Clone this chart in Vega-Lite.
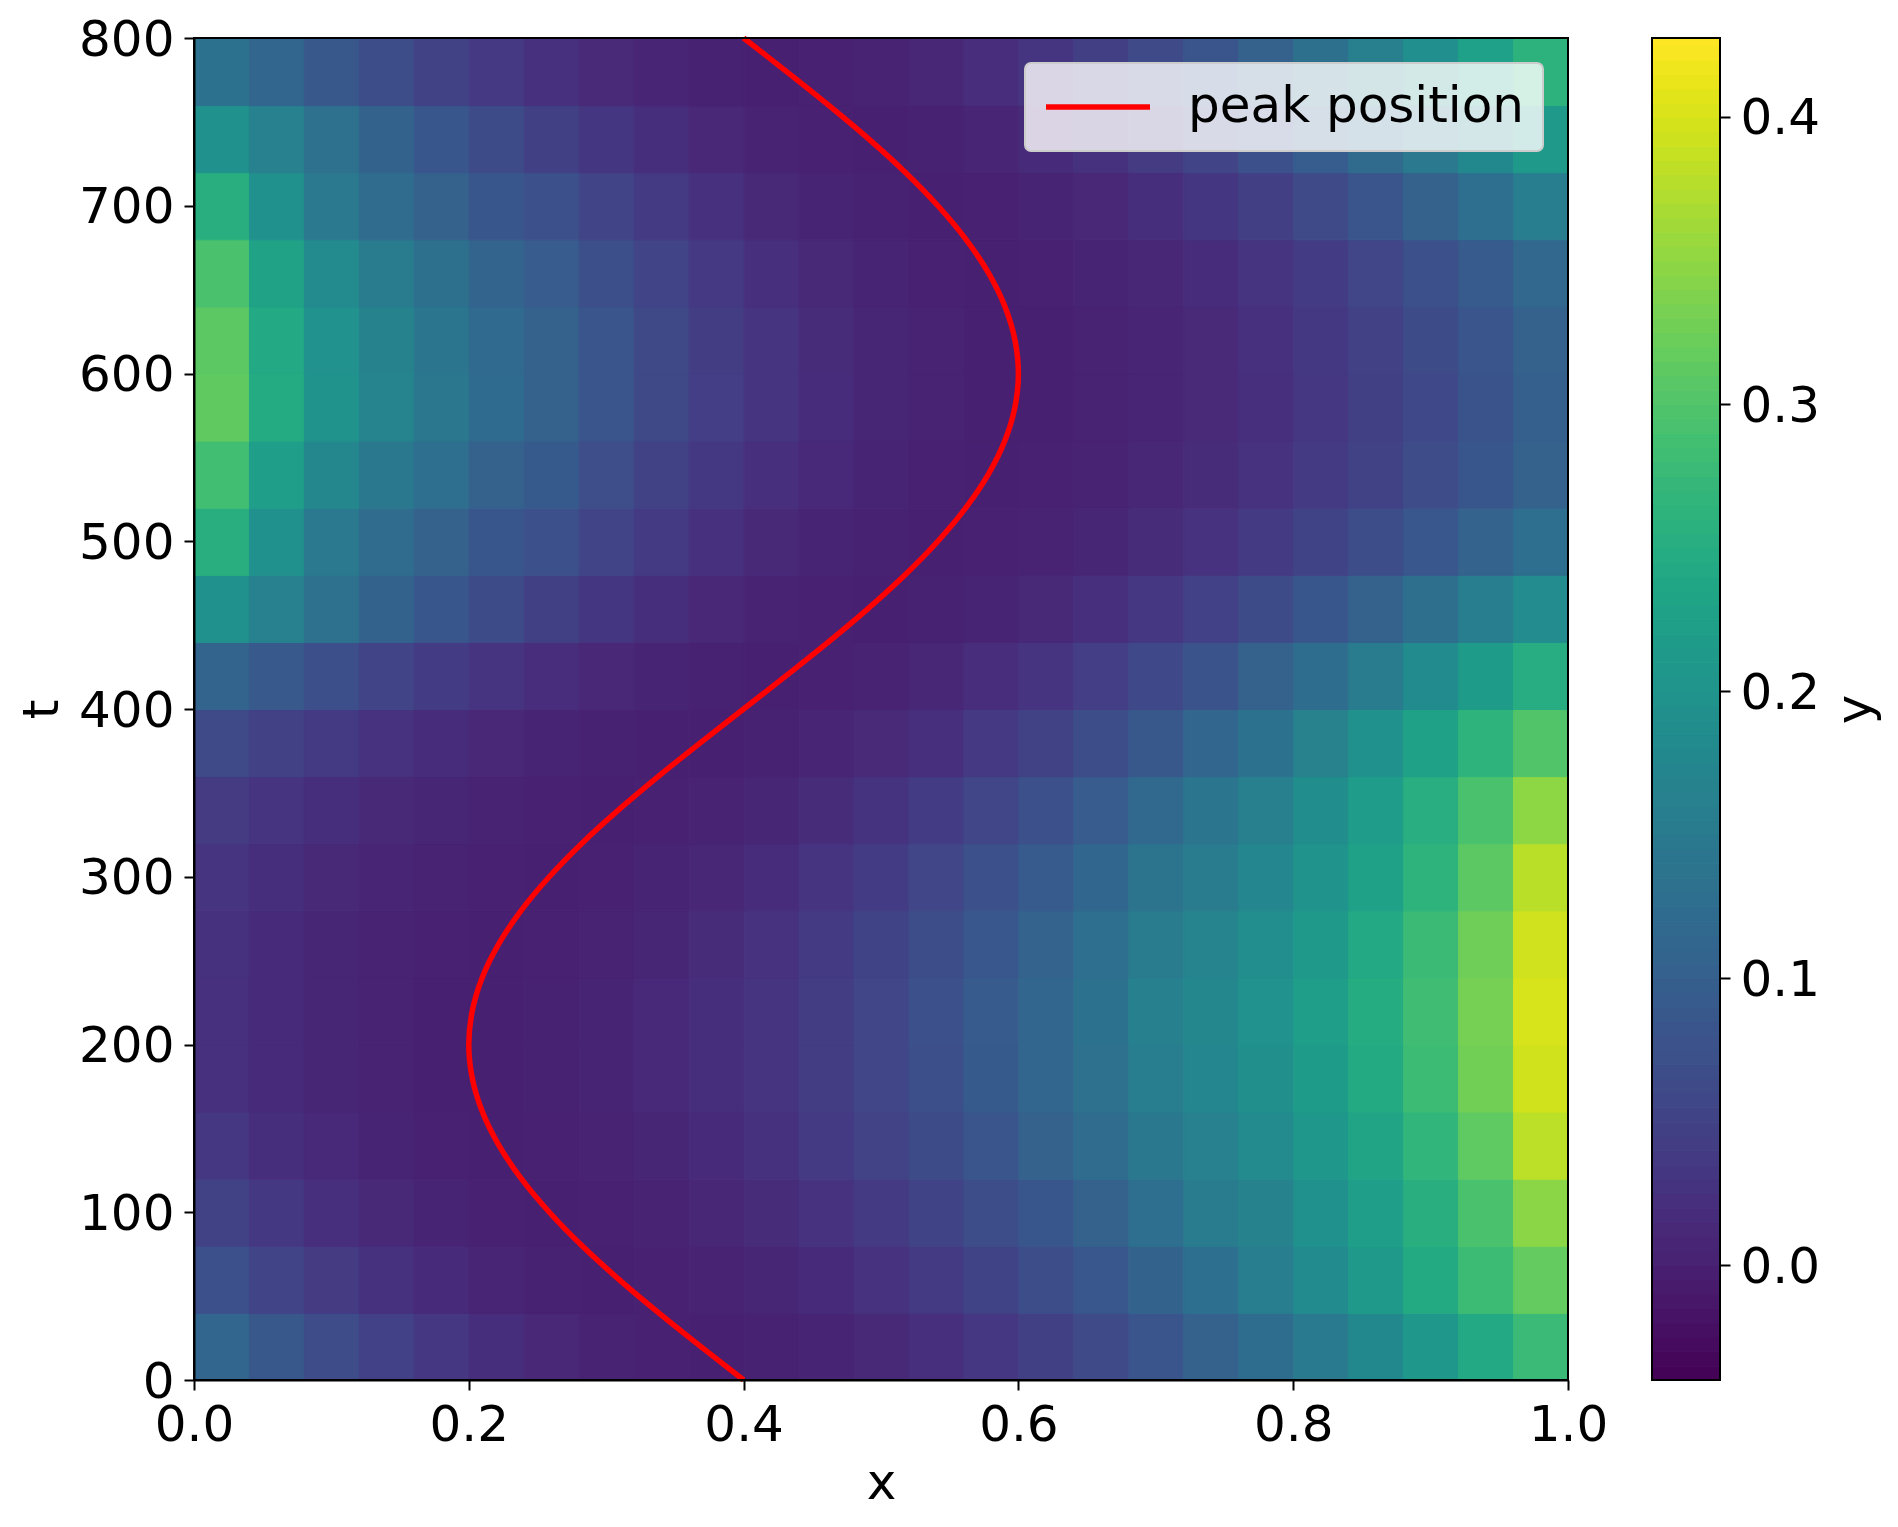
{"$schema":"https://vega.github.io/schema/vega-lite/v6.json","background":"white","padding":{"left":17,"top":15,"right":10,"bottom":10},"autosize":{"type":"pad"},"spacing":84,"bounds":"flush","config":{"view":{"stroke":null},"font":"DejaVu Sans","axis":{"labelFont":"DejaVu Sans","titleFont":"DejaVu Sans","labelFontSize":50,"titleFontSize":50,"labelColor":"black","titleColor":"black","tickColor":"black","domainColor":"black","tickSize":10,"tickWidth":2,"domainWidth":2,"grid":false,"labelPadding":10,"titleFontWeight":"normal"}},"datasets":{"cells":[
{"x":0.02,"t":20,"y":0.112},{"x":0.06,"t":20,"y":0.088},{"x":0.1,"t":20,"y":0.066},{"x":0.14,"t":20,"y":0.048},{"x":0.18,"t":20,"y":0.033},{"x":0.22,"t":20,"y":0.02},{"x":0.26,"t":20,"y":0.011},{"x":0.3,"t":20,"y":0.004},{"x":0.34,"t":20,"y":0.001},{"x":0.38,"t":20,"y":0},{"x":0.42,"t":20,"y":0.002},{"x":0.46,"t":20,"y":0.006},{"x":0.5,"t":20,"y":0.013},{"x":0.54,"t":20,"y":0.022},{"x":0.58,"t":20,"y":0.033},{"x":0.62,"t":20,"y":0.047},{"x":0.66,"t":20,"y":0.063},{"x":0.7,"t":20,"y":0.081},{"x":0.74,"t":20,"y":0.102},{"x":0.78,"t":20,"y":0.125},{"x":0.82,"t":20,"y":0.151},{"x":0.86,"t":20,"y":0.179},{"x":0.9,"t":20,"y":0.209},{"x":0.94,"t":20,"y":0.242},{"x":0.98,"t":20,"y":0.277},
{"x":0.02,"t":60,"y":0.074},{"x":0.06,"t":60,"y":0.055},{"x":0.1,"t":60,"y":0.039},{"x":0.14,"t":60,"y":0.025},{"x":0.18,"t":60,"y":0.015},{"x":0.22,"t":60,"y":0.007},{"x":0.26,"t":60,"y":0.002},{"x":0.3,"t":60,"y":0},{"x":0.34,"t":60,"y":0.001},{"x":0.38,"t":60,"y":0.004},{"x":0.42,"t":60,"y":0.009},{"x":0.46,"t":60,"y":0.016},{"x":0.5,"t":60,"y":0.026},{"x":0.54,"t":60,"y":0.037},{"x":0.58,"t":60,"y":0.052},{"x":0.62,"t":60,"y":0.068},{"x":0.66,"t":60,"y":0.086},{"x":0.7,"t":60,"y":0.107},{"x":0.74,"t":60,"y":0.13},{"x":0.78,"t":60,"y":0.156},{"x":0.82,"t":60,"y":0.183},{"x":0.86,"t":60,"y":0.213},{"x":0.9,"t":60,"y":0.245},{"x":0.94,"t":60,"y":0.28},{"x":0.98,"t":60,"y":0.316},
{"x":0.02,"t":100,"y":0.051},{"x":0.06,"t":100,"y":0.035},{"x":0.1,"t":100,"y":0.023},{"x":0.14,"t":100,"y":0.013},{"x":0.18,"t":100,"y":0.006},{"x":0.22,"t":100,"y":0.001},{"x":0.26,"t":100,"y":0},{"x":0.3,"t":100,"y":0.001},{"x":0.34,"t":100,"y":0.004},{"x":0.38,"t":100,"y":0.01},{"x":0.42,"t":100,"y":0.017},{"x":0.46,"t":100,"y":0.027},{"x":0.5,"t":100,"y":0.038},{"x":0.54,"t":100,"y":0.052},{"x":0.58,"t":100,"y":0.068},{"x":0.62,"t":100,"y":0.085},{"x":0.66,"t":100,"y":0.105},{"x":0.7,"t":100,"y":0.128},{"x":0.74,"t":100,"y":0.152},{"x":0.78,"t":100,"y":0.168},{"x":0.82,"t":100,"y":0.193},{"x":0.86,"t":100,"y":0.222},{"x":0.9,"t":100,"y":0.255},{"x":0.94,"t":100,"y":0.294},{"x":0.98,"t":100,"y":0.346},
{"x":0.02,"t":140,"y":0.033},{"x":0.06,"t":140,"y":0.021},{"x":0.1,"t":140,"y":0.012},{"x":0.14,"t":140,"y":0.005},{"x":0.18,"t":140,"y":0.001},{"x":0.22,"t":140,"y":0},{"x":0.26,"t":140,"y":0.001},{"x":0.3,"t":140,"y":0.004},{"x":0.34,"t":140,"y":0.009},{"x":0.38,"t":140,"y":0.016},{"x":0.42,"t":140,"y":0.025},{"x":0.46,"t":140,"y":0.037},{"x":0.5,"t":140,"y":0.05},{"x":0.54,"t":140,"y":0.065},{"x":0.58,"t":140,"y":0.083},{"x":0.62,"t":140,"y":0.102},{"x":0.66,"t":140,"y":0.124},{"x":0.7,"t":140,"y":0.147},{"x":0.74,"t":140,"y":0.163},{"x":0.78,"t":140,"y":0.181},{"x":0.82,"t":140,"y":0.206},{"x":0.86,"t":140,"y":0.233},{"x":0.9,"t":140,"y":0.267},{"x":0.94,"t":140,"y":0.312},{"x":0.98,"t":140,"y":0.381},
{"x":0.02,"t":180,"y":0.024},{"x":0.06,"t":180,"y":0.015},{"x":0.1,"t":180,"y":0.008},{"x":0.14,"t":180,"y":0.003},{"x":0.18,"t":180,"y":0},{"x":0.22,"t":180,"y":0},{"x":0.26,"t":180,"y":0.002},{"x":0.3,"t":180,"y":0.006},{"x":0.34,"t":180,"y":0.012},{"x":0.38,"t":180,"y":0.02},{"x":0.42,"t":180,"y":0.03},{"x":0.46,"t":180,"y":0.042},{"x":0.5,"t":180,"y":0.056},{"x":0.54,"t":180,"y":0.072},{"x":0.58,"t":180,"y":0.091},{"x":0.62,"t":180,"y":0.111},{"x":0.66,"t":180,"y":0.133},{"x":0.7,"t":180,"y":0.158},{"x":0.74,"t":180,"y":0.174},{"x":0.78,"t":180,"y":0.192},{"x":0.82,"t":180,"y":0.218},{"x":0.86,"t":180,"y":0.245},{"x":0.9,"t":180,"y":0.28},{"x":0.94,"t":180,"y":0.327},{"x":0.98,"t":180,"y":0.395},
{"x":0.02,"t":220,"y":0.024},{"x":0.06,"t":220,"y":0.015},{"x":0.1,"t":220,"y":0.008},{"x":0.14,"t":220,"y":0.003},{"x":0.18,"t":220,"y":0},{"x":0.22,"t":220,"y":0},{"x":0.26,"t":220,"y":0.002},{"x":0.3,"t":220,"y":0.006},{"x":0.34,"t":220,"y":0.012},{"x":0.38,"t":220,"y":0.02},{"x":0.42,"t":220,"y":0.03},{"x":0.46,"t":220,"y":0.043},{"x":0.5,"t":220,"y":0.057},{"x":0.54,"t":220,"y":0.073},{"x":0.58,"t":220,"y":0.092},{"x":0.62,"t":220,"y":0.112},{"x":0.66,"t":220,"y":0.135},{"x":0.7,"t":220,"y":0.16},{"x":0.74,"t":220,"y":0.176},{"x":0.78,"t":220,"y":0.195},{"x":0.82,"t":220,"y":0.221},{"x":0.86,"t":220,"y":0.249},{"x":0.9,"t":220,"y":0.284},{"x":0.94,"t":220,"y":0.331},{"x":0.98,"t":220,"y":0.4},
{"x":0.02,"t":260,"y":0.025},{"x":0.06,"t":260,"y":0.016},{"x":0.1,"t":260,"y":0.009},{"x":0.14,"t":260,"y":0.004},{"x":0.18,"t":260,"y":0.001},{"x":0.22,"t":260,"y":0},{"x":0.26,"t":260,"y":0.001},{"x":0.3,"t":260,"y":0.004},{"x":0.34,"t":260,"y":0.009},{"x":0.38,"t":260,"y":0.017},{"x":0.42,"t":260,"y":0.026},{"x":0.46,"t":260,"y":0.038},{"x":0.5,"t":260,"y":0.052},{"x":0.54,"t":260,"y":0.068},{"x":0.58,"t":260,"y":0.086},{"x":0.62,"t":260,"y":0.106},{"x":0.66,"t":260,"y":0.128},{"x":0.7,"t":260,"y":0.153},{"x":0.74,"t":260,"y":0.169},{"x":0.78,"t":260,"y":0.188},{"x":0.82,"t":260,"y":0.214},{"x":0.86,"t":260,"y":0.242},{"x":0.9,"t":260,"y":0.278},{"x":0.94,"t":260,"y":0.325},{"x":0.98,"t":260,"y":0.394},
{"x":0.02,"t":300,"y":0.03},{"x":0.06,"t":300,"y":0.021},{"x":0.1,"t":300,"y":0.013},{"x":0.14,"t":300,"y":0.007},{"x":0.18,"t":300,"y":0.003},{"x":0.22,"t":300,"y":0.001},{"x":0.26,"t":300,"y":0},{"x":0.3,"t":300,"y":0.001},{"x":0.34,"t":300,"y":0.005},{"x":0.38,"t":300,"y":0.01},{"x":0.42,"t":300,"y":0.018},{"x":0.46,"t":300,"y":0.029},{"x":0.5,"t":300,"y":0.041},{"x":0.54,"t":300,"y":0.056},{"x":0.58,"t":300,"y":0.073},{"x":0.62,"t":300,"y":0.093},{"x":0.66,"t":300,"y":0.114},{"x":0.7,"t":300,"y":0.138},{"x":0.74,"t":300,"y":0.154},{"x":0.78,"t":300,"y":0.173},{"x":0.82,"t":300,"y":0.198},{"x":0.86,"t":300,"y":0.226},{"x":0.9,"t":300,"y":0.262},{"x":0.94,"t":300,"y":0.309},{"x":0.98,"t":300,"y":0.379},
{"x":0.02,"t":340,"y":0.039},{"x":0.06,"t":340,"y":0.029},{"x":0.1,"t":340,"y":0.021},{"x":0.14,"t":340,"y":0.013},{"x":0.18,"t":340,"y":0.008},{"x":0.22,"t":340,"y":0.004},{"x":0.26,"t":340,"y":0.001},{"x":0.3,"t":340,"y":0},{"x":0.34,"t":340,"y":0.001},{"x":0.38,"t":340,"y":0.004},{"x":0.42,"t":340,"y":0.009},{"x":0.46,"t":340,"y":0.017},{"x":0.5,"t":340,"y":0.028},{"x":0.54,"t":340,"y":0.041},{"x":0.58,"t":340,"y":0.056},{"x":0.62,"t":340,"y":0.074},{"x":0.66,"t":340,"y":0.094},{"x":0.7,"t":340,"y":0.117},{"x":0.74,"t":340,"y":0.142},{"x":0.78,"t":340,"y":0.159},{"x":0.82,"t":340,"y":0.186},{"x":0.86,"t":340,"y":0.217},{"x":0.9,"t":340,"y":0.252},{"x":0.94,"t":340,"y":0.294},{"x":0.98,"t":340,"y":0.349},
{"x":0.02,"t":380,"y":0.063},{"x":0.06,"t":380,"y":0.049},{"x":0.1,"t":380,"y":0.037},{"x":0.14,"t":380,"y":0.027},{"x":0.18,"t":380,"y":0.018},{"x":0.22,"t":380,"y":0.011},{"x":0.26,"t":380,"y":0.006},{"x":0.3,"t":380,"y":0.002},{"x":0.34,"t":380,"y":0},{"x":0.38,"t":380,"y":0},{"x":0.42,"t":380,"y":0.002},{"x":0.46,"t":380,"y":0.007},{"x":0.5,"t":380,"y":0.014},{"x":0.54,"t":380,"y":0.023},{"x":0.58,"t":380,"y":0.036},{"x":0.62,"t":380,"y":0.051},{"x":0.66,"t":380,"y":0.068},{"x":0.7,"t":380,"y":0.088},{"x":0.74,"t":380,"y":0.111},{"x":0.78,"t":380,"y":0.136},{"x":0.82,"t":380,"y":0.164},{"x":0.86,"t":380,"y":0.194},{"x":0.9,"t":380,"y":0.227},{"x":0.94,"t":380,"y":0.262},{"x":0.98,"t":380,"y":0.3},
{"x":0.02,"t":420,"y":0.109},{"x":0.06,"t":420,"y":0.089},{"x":0.1,"t":420,"y":0.071},{"x":0.14,"t":420,"y":0.055},{"x":0.18,"t":420,"y":0.041},{"x":0.22,"t":420,"y":0.029},{"x":0.26,"t":420,"y":0.019},{"x":0.3,"t":420,"y":0.011},{"x":0.34,"t":420,"y":0.005},{"x":0.38,"t":420,"y":0.002},{"x":0.42,"t":420,"y":0},{"x":0.46,"t":420,"y":0.001},{"x":0.5,"t":420,"y":0.004},{"x":0.54,"t":420,"y":0.01},{"x":0.58,"t":420,"y":0.019},{"x":0.62,"t":420,"y":0.03},{"x":0.66,"t":420,"y":0.044},{"x":0.7,"t":420,"y":0.06},{"x":0.74,"t":420,"y":0.08},{"x":0.78,"t":420,"y":0.102},{"x":0.82,"t":420,"y":0.126},{"x":0.86,"t":420,"y":0.153},{"x":0.9,"t":420,"y":0.183},{"x":0.94,"t":420,"y":0.216},{"x":0.98,"t":420,"y":0.251},
{"x":0.02,"t":460,"y":0.193},{"x":0.06,"t":460,"y":0.162},{"x":0.1,"t":460,"y":0.133},{"x":0.14,"t":460,"y":0.107},{"x":0.18,"t":460,"y":0.084},{"x":0.22,"t":460,"y":0.064},{"x":0.26,"t":460,"y":0.047},{"x":0.3,"t":460,"y":0.032},{"x":0.34,"t":460,"y":0.02},{"x":0.38,"t":460,"y":0.011},{"x":0.42,"t":460,"y":0.004},{"x":0.46,"t":460,"y":0.001},{"x":0.5,"t":460,"y":0},{"x":0.54,"t":460,"y":0.002},{"x":0.58,"t":460,"y":0.006},{"x":0.62,"t":460,"y":0.013},{"x":0.66,"t":460,"y":0.022},{"x":0.7,"t":460,"y":0.034},{"x":0.74,"t":460,"y":0.048},{"x":0.78,"t":460,"y":0.064},{"x":0.82,"t":460,"y":0.084},{"x":0.86,"t":460,"y":0.105},{"x":0.9,"t":460,"y":0.129},{"x":0.94,"t":460,"y":0.156},{"x":0.98,"t":460,"y":0.185},
{"x":0.02,"t":500,"y":0.255},{"x":0.06,"t":500,"y":0.193},{"x":0.1,"t":500,"y":0.149},{"x":0.14,"t":500,"y":0.123},{"x":0.18,"t":500,"y":0.105},{"x":0.22,"t":500,"y":0.085},{"x":0.26,"t":500,"y":0.073},{"x":0.3,"t":500,"y":0.054},{"x":0.34,"t":500,"y":0.037},{"x":0.38,"t":500,"y":0.024},{"x":0.42,"t":500,"y":0.013},{"x":0.46,"t":500,"y":0.006},{"x":0.5,"t":500,"y":0.002},{"x":0.54,"t":500,"y":0},{"x":0.58,"t":500,"y":0.001},{"x":0.62,"t":500,"y":0.004},{"x":0.66,"t":500,"y":0.009},{"x":0.7,"t":500,"y":0.017},{"x":0.74,"t":500,"y":0.026},{"x":0.78,"t":500,"y":0.038},{"x":0.82,"t":500,"y":0.052},{"x":0.86,"t":500,"y":0.068},{"x":0.9,"t":500,"y":0.086},{"x":0.94,"t":500,"y":0.106},{"x":0.98,"t":500,"y":0.128},
{"x":0.02,"t":540,"y":0.285},{"x":0.06,"t":540,"y":0.221},{"x":0.1,"t":540,"y":0.175},{"x":0.14,"t":540,"y":0.147},{"x":0.18,"t":540,"y":0.127},{"x":0.22,"t":540,"y":0.105},{"x":0.26,"t":540,"y":0.091},{"x":0.3,"t":540,"y":0.069},{"x":0.34,"t":540,"y":0.051},{"x":0.38,"t":540,"y":0.035},{"x":0.42,"t":540,"y":0.022},{"x":0.46,"t":540,"y":0.012},{"x":0.5,"t":540,"y":0.005},{"x":0.54,"t":540,"y":0.001},{"x":0.58,"t":540,"y":0},{"x":0.62,"t":540,"y":0.001},{"x":0.66,"t":540,"y":0.004},{"x":0.7,"t":540,"y":0.01},{"x":0.74,"t":540,"y":0.017},{"x":0.78,"t":540,"y":0.026},{"x":0.82,"t":540,"y":0.038},{"x":0.86,"t":540,"y":0.051},{"x":0.9,"t":540,"y":0.067},{"x":0.94,"t":540,"y":0.085},{"x":0.98,"t":540,"y":0.104},
{"x":0.02,"t":580,"y":0.313},{"x":0.06,"t":580,"y":0.247},{"x":0.1,"t":580,"y":0.199},{"x":0.14,"t":580,"y":0.169},{"x":0.18,"t":580,"y":0.146},{"x":0.22,"t":580,"y":0.122},{"x":0.26,"t":580,"y":0.105},{"x":0.3,"t":580,"y":0.082},{"x":0.34,"t":580,"y":0.061},{"x":0.38,"t":580,"y":0.044},{"x":0.42,"t":580,"y":0.029},{"x":0.46,"t":580,"y":0.018},{"x":0.5,"t":580,"y":0.009},{"x":0.54,"t":580,"y":0.003},{"x":0.58,"t":580,"y":0},{"x":0.62,"t":580,"y":0},{"x":0.66,"t":580,"y":0.003},{"x":0.7,"t":580,"y":0.007},{"x":0.74,"t":580,"y":0.014},{"x":0.78,"t":580,"y":0.023},{"x":0.82,"t":580,"y":0.034},{"x":0.86,"t":580,"y":0.047},{"x":0.9,"t":580,"y":0.062},{"x":0.94,"t":580,"y":0.08},{"x":0.98,"t":580,"y":0.099},
{"x":0.02,"t":620,"y":0.309},{"x":0.06,"t":620,"y":0.243},{"x":0.1,"t":620,"y":0.195},{"x":0.14,"t":620,"y":0.166},{"x":0.18,"t":620,"y":0.144},{"x":0.22,"t":620,"y":0.12},{"x":0.26,"t":620,"y":0.104},{"x":0.3,"t":620,"y":0.081},{"x":0.34,"t":620,"y":0.061},{"x":0.38,"t":620,"y":0.043},{"x":0.42,"t":620,"y":0.029},{"x":0.46,"t":620,"y":0.017},{"x":0.5,"t":620,"y":0.009},{"x":0.54,"t":620,"y":0.003},{"x":0.58,"t":620,"y":0},{"x":0.62,"t":620,"y":0},{"x":0.66,"t":620,"y":0.003},{"x":0.7,"t":620,"y":0.007},{"x":0.74,"t":620,"y":0.014},{"x":0.78,"t":620,"y":0.024},{"x":0.82,"t":620,"y":0.035},{"x":0.86,"t":620,"y":0.049},{"x":0.9,"t":620,"y":0.065},{"x":0.94,"t":620,"y":0.083},{"x":0.98,"t":620,"y":0.104},
{"x":0.02,"t":660,"y":0.294},{"x":0.06,"t":660,"y":0.229},{"x":0.1,"t":660,"y":0.182},{"x":0.14,"t":660,"y":0.153},{"x":0.18,"t":660,"y":0.132},{"x":0.22,"t":660,"y":0.109},{"x":0.26,"t":660,"y":0.094},{"x":0.3,"t":660,"y":0.072},{"x":0.34,"t":660,"y":0.053},{"x":0.38,"t":660,"y":0.036},{"x":0.42,"t":660,"y":0.023},{"x":0.46,"t":660,"y":0.013},{"x":0.5,"t":660,"y":0.006},{"x":0.54,"t":660,"y":0.001},{"x":0.58,"t":660,"y":0},{"x":0.62,"t":660,"y":0.001},{"x":0.66,"t":660,"y":0.005},{"x":0.7,"t":660,"y":0.01},{"x":0.74,"t":660,"y":0.018},{"x":0.78,"t":660,"y":0.029},{"x":0.82,"t":660,"y":0.041},{"x":0.86,"t":660,"y":0.056},{"x":0.9,"t":660,"y":0.073},{"x":0.94,"t":660,"y":0.092},{"x":0.98,"t":660,"y":0.113},
{"x":0.02,"t":700,"y":0.255},{"x":0.06,"t":700,"y":0.193},{"x":0.1,"t":700,"y":0.149},{"x":0.14,"t":700,"y":0.123},{"x":0.18,"t":700,"y":0.105},{"x":0.22,"t":700,"y":0.085},{"x":0.26,"t":700,"y":0.073},{"x":0.3,"t":700,"y":0.054},{"x":0.34,"t":700,"y":0.037},{"x":0.38,"t":700,"y":0.024},{"x":0.42,"t":700,"y":0.013},{"x":0.46,"t":700,"y":0.006},{"x":0.5,"t":700,"y":0.002},{"x":0.54,"t":700,"y":0},{"x":0.58,"t":700,"y":0.001},{"x":0.62,"t":700,"y":0.005},{"x":0.66,"t":700,"y":0.011},{"x":0.7,"t":700,"y":0.02},{"x":0.74,"t":700,"y":0.032},{"x":0.78,"t":700,"y":0.046},{"x":0.82,"t":700,"y":0.063},{"x":0.86,"t":700,"y":0.082},{"x":0.9,"t":700,"y":0.104},{"x":0.94,"t":700,"y":0.128},{"x":0.98,"t":700,"y":0.156},
{"x":0.02,"t":740,"y":0.193},{"x":0.06,"t":740,"y":0.162},{"x":0.1,"t":740,"y":0.133},{"x":0.14,"t":740,"y":0.107},{"x":0.18,"t":740,"y":0.084},{"x":0.22,"t":740,"y":0.064},{"x":0.26,"t":740,"y":0.047},{"x":0.3,"t":740,"y":0.032},{"x":0.34,"t":740,"y":0.02},{"x":0.38,"t":740,"y":0.011},{"x":0.42,"t":740,"y":0.004},{"x":0.46,"t":740,"y":0.001},{"x":0.5,"t":740,"y":0},{"x":0.54,"t":740,"y":0.002},{"x":0.58,"t":740,"y":0.007},{"x":0.62,"t":740,"y":0.015},{"x":0.66,"t":740,"y":0.025},{"x":0.7,"t":740,"y":0.039},{"x":0.74,"t":740,"y":0.055},{"x":0.78,"t":740,"y":0.074},{"x":0.82,"t":740,"y":0.096},{"x":0.86,"t":740,"y":0.121},{"x":0.9,"t":740,"y":0.149},{"x":0.94,"t":740,"y":0.179},{"x":0.98,"t":740,"y":0.212},
{"x":0.02,"t":780,"y":0.136},{"x":0.06,"t":780,"y":0.111},{"x":0.1,"t":780,"y":0.088},{"x":0.14,"t":780,"y":0.068},{"x":0.18,"t":780,"y":0.051},{"x":0.22,"t":780,"y":0.036},{"x":0.26,"t":780,"y":0.024},{"x":0.3,"t":780,"y":0.014},{"x":0.34,"t":780,"y":0.007},{"x":0.38,"t":780,"y":0.002},{"x":0.42,"t":780,"y":0},{"x":0.46,"t":780,"y":0.001},{"x":0.5,"t":780,"y":0.004},{"x":0.54,"t":780,"y":0.01},{"x":0.58,"t":780,"y":0.019},{"x":0.62,"t":780,"y":0.031},{"x":0.66,"t":780,"y":0.045},{"x":0.7,"t":780,"y":0.063},{"x":0.74,"t":780,"y":0.083},{"x":0.78,"t":780,"y":0.105},{"x":0.82,"t":780,"y":0.131},{"x":0.86,"t":780,"y":0.159},{"x":0.9,"t":780,"y":0.19},{"x":0.94,"t":780,"y":0.224},{"x":0.98,"t":780,"y":0.261}
],"peak":[{"x":0.4,"t":0},{"x":0.3687,"t":20},{"x":0.3382,"t":40},{"x":0.3092,"t":60},{"x":0.2824,"t":80},{"x":0.2586,"t":100},{"x":0.2382,"t":120},{"x":0.2218,"t":140},{"x":0.2098,"t":160},{"x":0.2025,"t":180},{"x":0.2,"t":200},{"x":0.2025,"t":220},{"x":0.2098,"t":240},{"x":0.2218,"t":260},{"x":0.2382,"t":280},{"x":0.2586,"t":300},{"x":0.2824,"t":320},{"x":0.3092,"t":340},{"x":0.3382,"t":360},{"x":0.3687,"t":380},{"x":0.4,"t":400},{"x":0.4313,"t":420},{"x":0.4618,"t":440},{"x":0.4908,"t":460},{"x":0.5176,"t":480},{"x":0.5414,"t":500},{"x":0.5618,"t":520},{"x":0.5782,"t":540},{"x":0.5902,"t":560},{"x":0.5975,"t":580},{"x":0.6,"t":600},{"x":0.5975,"t":620},{"x":0.5902,"t":640},{"x":0.5782,"t":660},{"x":0.5618,"t":680},{"x":0.5414,"t":700},{"x":0.5176,"t":720},{"x":0.4908,"t":740},{"x":0.4618,"t":760},{"x":0.4313,"t":780},{"x":0.4,"t":800}],"frame":[{"x0":0,"x1":1,"t0":0,"t1":800}],"barframe":[{"b0":-0.04,"b1":0.4275}],"bar":[{"v":-0.0375},{"v":-0.0325},{"v":-0.0275},{"v":-0.0225},{"v":-0.0175},{"v":-0.0125},{"v":-0.0075},{"v":-0.0025},{"v":0.0025},{"v":0.0075},{"v":0.0125},{"v":0.0175},{"v":0.0225},{"v":0.0275},{"v":0.0325},{"v":0.0375},{"v":0.0425},{"v":0.0475},{"v":0.0525},{"v":0.0575},{"v":0.0625},{"v":0.0675},{"v":0.0725},{"v":0.0775},{"v":0.0825},{"v":0.0875},{"v":0.0925},{"v":0.0975},{"v":0.1025},{"v":0.1075},{"v":0.1125},{"v":0.1175},{"v":0.1225},{"v":0.1275},{"v":0.1325},{"v":0.1375},{"v":0.1425},{"v":0.1475},{"v":0.1525},{"v":0.1575},{"v":0.1625},{"v":0.1675},{"v":0.1725},{"v":0.1775},{"v":0.1825},{"v":0.1875},{"v":0.1925},{"v":0.1975},{"v":0.2025},{"v":0.2075},{"v":0.2125},{"v":0.2175},{"v":0.2225},{"v":0.2275},{"v":0.2325},{"v":0.2375},{"v":0.2425},{"v":0.2475},{"v":0.2525},{"v":0.2575},{"v":0.2625},{"v":0.2675},{"v":0.2725},{"v":0.2775},{"v":0.2825},{"v":0.2875},{"v":0.2925},{"v":0.2975},{"v":0.3025},{"v":0.3075},{"v":0.3125},{"v":0.3175},{"v":0.3225},{"v":0.3275},{"v":0.3325},{"v":0.3375},{"v":0.3425},{"v":0.3475},{"v":0.3525},{"v":0.3575},{"v":0.3625},{"v":0.3675},{"v":0.3725},{"v":0.3775},{"v":0.3825},{"v":0.3875},{"v":0.3925},{"v":0.3975},{"v":0.4025},{"v":0.4075},{"v":0.4125},{"v":0.4175},{"v":0.4225},{"v":0.4275}]},"hconcat":[{"width":1374,"height":1342,"resolve":{"scale":{"stroke":"independent"}},"layer":[{"data":{"name":"cells"},"mark":{"type":"rect","strokeWidth":1,"clip":true},"encoding":{"x":{"field":"x","type":"quantitative","bin":{"extent":[0,1],"step":0.04},"scale":{"domain":[0,1],"nice":false},"axis":{"title":"x","values":[0,0.2,0.4,0.6,0.8,1],"format":".1f","labelFlush":false,"titlePadding":8}},"y":{"field":"t","type":"quantitative","bin":{"extent":[0,800],"step":40},"scale":{"domain":[0,800],"nice":false},"axis":{"title":"t","values":[0,100,200,300,400,500,600,700,800],"format":"d","labelFlush":false,"titlePadding":11,"labelOffset":2}},"fill":{"field":"y","type":"quantitative","scale":{"scheme":"viridis","domain":[-0.04,0.4275]},"legend":null},"stroke":{"field":"y","type":"quantitative","scale":{"scheme":"viridis","domain":[-0.04,0.4275]},"legend":null}}},{"data":{"name":"peak"},"mark":{"type":"line","strokeWidth":5.5,"interpolate":"catmull-rom"},"encoding":{"x":{"field":"x","type":"quantitative"},"y":{"field":"t","type":"quantitative"},"order":{"field":"t"},"stroke":{"datum":"peak position","type":"nominal","scale":{"domain":["peak position"],"range":["#ff0000"]},"legend":{"title":null,"orient":"top-right","offset":25,"symbolType":"stroke","symbolSize":10816,"symbolStrokeWidth":5.5,"labelFontSize":50,"labelFont":"DejaVu Sans","labelColor":"black","labelOffset":35,"labelLimit":600,"clipHeight":52,"fillColor":"rgba(255,255,255,0.8)","strokeColor":"#cccccc","cornerRadius":6,"padding":18,"encode":{"legend":{"update":{"strokeWidth":{"value":2}}}}}}}},{"data":{"name":"frame"},"mark":{"type":"rect","fill":null,"stroke":"black","strokeWidth":2},"encoding":{"x":{"field":"x0","type":"quantitative"},"x2":{"field":"x1"},"y":{"field":"t0","type":"quantitative"},"y2":{"field":"t1"}}}]},{"width":68,"height":1342,"layer":[{"data":{"name":"bar"},"mark":{"type":"rect","strokeWidth":1,"clip":true},"encoding":{"y":{"field":"v","type":"quantitative","bin":{"extent":[-0.04,0.43],"step":0.005},"scale":{"domain":[-0.04,0.4275],"nice":false},"axis":{"orient":"right","title":"y","titleAngle":270,"titleBaseline":"top","values":[0,0.1,0.2,0.3,0.4],"format":".1f","labelFlush":false,"domain":false,"titlePadding":11,"labelOffset":2}},"fill":{"field":"v","type":"quantitative","scale":{"scheme":"viridis","domain":[-0.04,0.4275]},"legend":null},"stroke":{"field":"v","type":"quantitative","scale":{"scheme":"viridis","domain":[-0.04,0.4275]},"legend":null}}},{"data":{"name":"barframe"},"mark":{"type":"rect","fill":null,"stroke":"black","strokeWidth":2},"encoding":{"y":{"field":"b0","type":"quantitative"},"y2":{"field":"b1"}}}]}]}
